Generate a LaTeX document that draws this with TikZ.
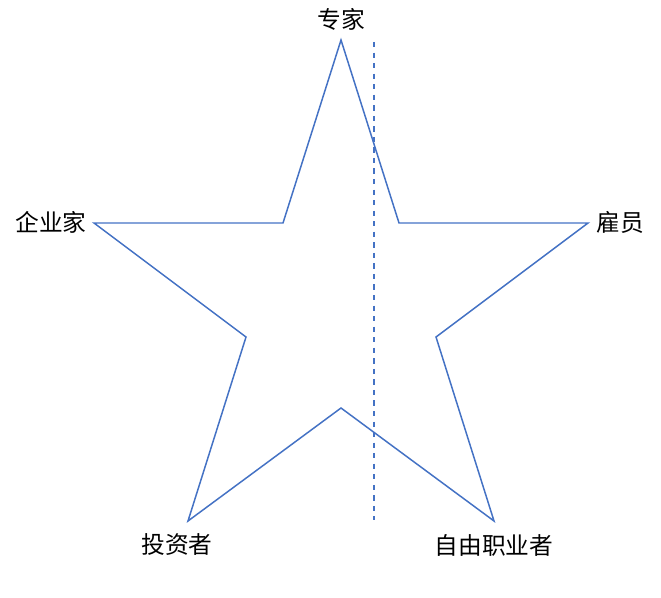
\documentclass[tikz,border=0pt]{standalone}
\usepackage{fontspec}
\usepackage{xcolor}
\usepackage{tikz}
\newfontfamily\cjk{Noto Sans CJK SC}
\definecolor{starblue}{RGB}{68,114,196}

\begin{document}
\begin{tikzpicture}[x=0.02cm,y=-0.02cm,
    starline/.style={starblue, line width=0.85pt, line join=miter},
    axisline/.style={starblue, dashed, line width=0.85pt},
    role/.style={font=\cjk\fontsize{13.5}{15}\selectfont, text=black, inner sep=0pt}]
            \useasboundingbox (0,0) rectangle (661,597);

            % Sommets du pentagramme
            \coordinate (top) at (341,40);
            \coordinate (innerTR) at (399,223);
            \coordinate (right) at (588,223);
            \coordinate (innerR) at (436,337);
            \coordinate (botR) at (494,521);
            \coordinate (innerB) at (341,408);
            \coordinate (botL) at (188,521);
            \coordinate (innerL) at (246,337);
            \coordinate (left) at (94,223);
            \coordinate (innerTL) at (283,223);

            % L'étoile
            \draw[starline] (top) -- (innerTR) -- (right) -- (innerR) -- (botR)
                -- (innerB) -- (botL) -- (innerL) -- (left) -- (innerTL) -- cycle;

            % La ligne pointillée
            \coordinate (axisTop) at (374,42);
            \coordinate (axisBot) at (374,520);
            \draw[axisline] (axisTop) -- (axisBot);

            % Les rôles
            \node[role] (expert) at (341,19) {专家};
            \node[role] (entrepreneur) at (51,222) {企业家};
            \node[role] (employee) at (620,222) {雇员};
            \node[role] (investor) at (177,545) {投资者};
            \node[role] (freelancer) at (494,545) {自由职业者};
        \end{tikzpicture}
\end{document}
